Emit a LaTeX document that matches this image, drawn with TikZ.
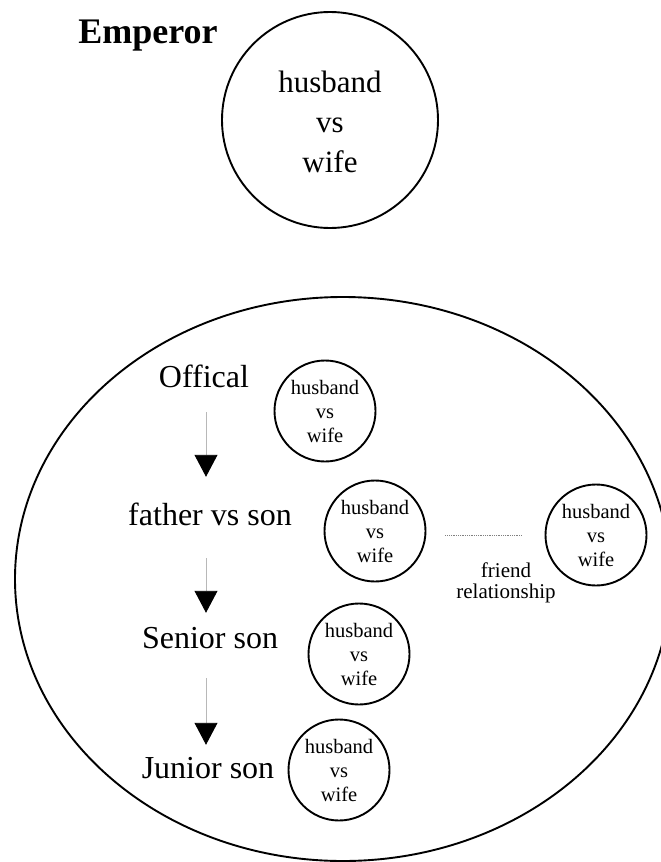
\documentclass[tikz,border=0pt]{standalone}
\usepackage{fontspec}
\setmainfont{Liberation Serif}
\usetikzlibrary{arrows.meta}
\begin{document}
\begin{tikzpicture}[x=1pt,y=-1pt,
  hw/.style={draw,circle,line width=1.9pt,inner sep=0pt,minimum size=101pt,align=center,font=\fontsize{20.5}{24}\selectfont},
  lbl/.style={inner sep=0pt,anchor=base,text height=22pt,text depth=0pt,font=\fontsize{32}{36}\selectfont},
  arr/.style={draw=black!28,line width=0.9pt,-{Triangle[width=23pt,length=22pt,color=black]}}]
\useasboundingbox (0,0) rectangle (661,862);
\clip (0,0) rectangle (661,862);
\draw[line width=1.9pt] (343,579) ellipse [x radius=328pt,y radius=282pt];
\node[draw,circle,line width=1.9pt,minimum size=216pt,inner sep=0pt] (emp) at (330,120) {};
\node[align=center,inner sep=0pt,font=\fontsize{31}{40}\selectfont] (empt) at (330,122) {husband\\vs\\wife};
\node[font=\fontsize{36}{40}\selectfont\bfseries,anchor=base,inner sep=0pt] (title) at (148,43) {Emperor};
\node[lbl] (off) at (204,387) {Offical};
\node[lbl] (fat) at (210,525) {father vs son};
\node[lbl] (sen) at (210,648) {Senior son};
\node[lbl] (jun) at (208,778) {Junior son};
\node[hw] (c1) at (325,411) {husband\\vs\\wife};
\node[hw] (c2) at (375,531) {husband\\vs\\wife};
\node[hw] (c3) at (596,535) {husband\\vs\\wife};
\node[hw] (c4) at (359,654) {husband\\vs\\wife};
\node[hw] (c5) at (339,770) {husband\\vs\\wife};
\draw[black!50,densely dotted,line width=0.8pt,shorten <=19pt,shorten >=22pt] (c3.west -| c2.east) -- (c3.west);
\node[font=\fontsize{21}{21}\selectfont,align=center,inner sep=0pt] (fr) at (506,583) {friend\\relationship};
\coordinate (ax) at (206,0);
\draw[arr,shorten <=25pt,shorten >=26pt] (off.south -| ax) -- (fat.north -| ax);
\draw[arr,shorten <=33pt,shorten >=13pt] (fat.south -| ax) -- (sen.north -| ax);
\draw[arr,shorten <=30pt,shorten >=11pt] (sen.south -| ax) -- (jun.north -| ax);
\end{tikzpicture}
\end{document}
